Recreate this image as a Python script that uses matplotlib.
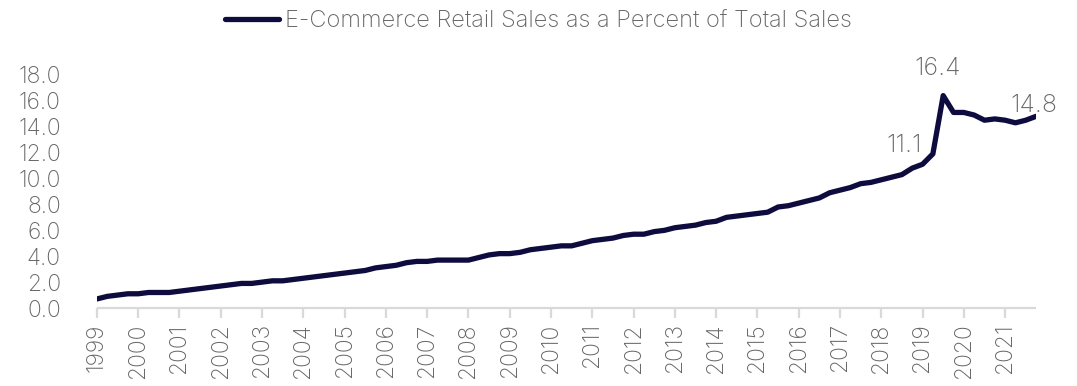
import matplotlib
matplotlib.use("Agg")
import matplotlib.pyplot as plt
from matplotlib import font_manager

# Quarterly share of e-commerce in total retail sales (%), 1999 Q4 - 2022 Q3
ecommerce_pct = [
    0.7,
    0.9, 1.0, 1.1, 1.1,
    1.2, 1.2, 1.2, 1.3,
    1.4, 1.5, 1.6, 1.7,
    1.8, 1.9, 1.9, 2.0,
    2.1, 2.1, 2.2, 2.3,
    2.4, 2.5, 2.6, 2.7,
    2.8, 2.9, 3.1, 3.2,
    3.3, 3.5, 3.6, 3.6,
    3.7, 3.7, 3.7, 3.7,
    3.9, 4.1, 4.2, 4.2,
    4.3, 4.5, 4.6, 4.7,
    4.8, 4.8, 5.0, 5.2,
    5.3, 5.4, 5.6, 5.7,
    5.7, 5.9, 6.0, 6.2,
    6.3, 6.4, 6.6, 6.7,
    7.0, 7.1, 7.2, 7.3,
    7.4, 7.8, 7.9, 8.1,
    8.3, 8.5, 8.9, 9.1,
    9.3, 9.6, 9.7, 9.9,
    10.1, 10.3, 10.8, 11.1,
    11.9, 16.4, 15.1, 15.1,
    14.9, 14.5, 14.6, 14.5,
    14.3, 14.5, 14.8,
]
year_labels = [str(y) for y in range(1999, 2022)]
series_name = "E-Commerce Retail Sales as a Percent of Total Sales"

# Values called out on the chart: (quarter index, pixel offset of the text)
callouts = [(80, (-18, 19)), (82, (-6, 27)), (91, (-2, 11))]

available = {f.name for f in font_manager.fontManager.ttflist}
family = [f for f in ["Inter", "Lato", "Open Sans", "DejaVu Sans"] if f in available]
plt.rcParams["font.family"] = family
plt.rcParams["font.weight"] = "light"

line_color = "#0e0c3e"
text_color = "#666666"
axis_color = "#d9d9d9"

fig = plt.figure(figsize=(10.77, 3.86), dpi=100)
ax = fig.add_axes([0.09, 0.202, 0.872, 0.604])

x = list(range(len(ecommerce_pct)))
ax.plot(x, ecommerce_pct, color=line_color, lw=3.8,
        solid_capstyle="round", solid_joinstyle="round", label=series_name)

ax.set_xlim(0, len(ecommerce_pct) - 1)
ax.set_ylim(0, 18)
ax.set_yticks([v * 2 for v in range(10)])
ax.set_yticklabels([f"{v * 2:.1f}" for v in range(10)])
ax.set_xticks(list(range(0, 4 * len(year_labels), 4)))
ax.set_xticklabels(year_labels, rotation=90)

for side in ["top", "right", "left"]:
    ax.spines[side].set_visible(False)
ax.spines["bottom"].set_color(axis_color)
ax.spines["bottom"].set_linewidth(1.6)
ax.spines["bottom"].set_capstyle("butt")

ax.tick_params(axis="y", length=0, pad=26, labelsize=16.5, labelcolor=text_color)
ax.tick_params(axis="x", length=7, width=1.6, color=axis_color, pad=4,
               labelsize=16.5, labelcolor=text_color)

for idx, (dx, dy) in callouts:
    ax.annotate(f"{ecommerce_pct[idx]:.1f}", (idx, ecommerce_pct[idx]),
                xytext=(dx, dy), textcoords="offset pixels",
                ha="center", va="center", fontsize=18, color=text_color,
                annotation_clip=False)

fig.legend(loc="center", bbox_to_anchor=(0.5, 1 - 21.7 / 386), frameon=False,
           fontsize=17, labelcolor=text_color, handlelength=2.3,
           handletextpad=0.25, borderpad=0)

fig.savefig("out.png", dpi=100)
